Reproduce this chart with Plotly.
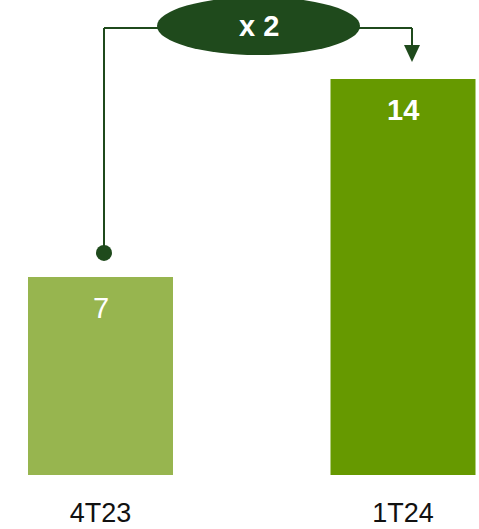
import plotly.graph_objects as go

categories = ["4T23", "1T24"]
values = [7, 14]
value_labels = ["7", "<b>14</b>"]
bar_colors = ["#97B54F", "#669900"]
growth_label = "<b>x 2</b>"

DARK = "#1F4A1C"
W, H = 479, 529
PLOT_BOTTOM = 475
PX_PER_UNIT = 396 / 14.0
X0_PX, X_UNIT_PX = 100.5, 302.5

def px_to_x(px):
    return (px - X0_PX) / X_UNIT_PX

def px_to_y(py):
    return (PLOT_BOTTOM - py) / PX_PER_UNIT

fig = go.Figure(go.Bar(
    x=[0, 1], y=values, marker=dict(color=bar_colors, line=dict(width=0)),
    width=145 / X_UNIT_PX, hoverinfo="skip",
))

for i, (v, lab) in enumerate(zip(values, value_labels)):
    fig.add_annotation(x=i, y=v, text=lab, showarrow=False, yanchor="top", yshift=-13,
                       font=dict(family="Liberation Sans, Arial", size=29, color="white"))

line = dict(color=DARK, width=2)
y_conn = px_to_y(28)
# left connector
fig.add_shape(type="line", x0=px_to_x(104), x1=px_to_x(170), y0=y_conn, y1=y_conn, line=line)
fig.add_shape(type="line", x0=px_to_x(104), x1=px_to_x(104), y0=y_conn, y1=values[0] + 0.85, line=line)
fig.add_shape(type="circle", x0=px_to_x(96), x1=px_to_x(112),
              y0=values[0] + 0.85 - 8 / PX_PER_UNIT, y1=values[0] + 0.85 + 8 / PX_PER_UNIT,
              fillcolor=DARK, line=dict(width=0))
# right connector
fig.add_shape(type="line", x0=px_to_x(345), x1=px_to_x(412), y0=y_conn, y1=y_conn, line=line)
fig.add_shape(type="line", x0=px_to_x(412), x1=px_to_x(412), y0=y_conn, y1=px_to_y(46), line=line)
fig.add_shape(type="path",
              path=f"M {px_to_x(404)} {px_to_y(45)} L {px_to_x(420)} {px_to_y(45)} L {px_to_x(412)} {px_to_y(62)} Z",
              fillcolor=DARK, line=dict(width=0))
# ellipse
fig.add_shape(type="circle", x0=px_to_x(157), x1=px_to_x(360), y0=px_to_y(55), y1=px_to_y(-3),
              fillcolor=DARK, line=dict(width=0))
fig.add_annotation(x=px_to_x(258.5), y=px_to_y(26), text=growth_label, showarrow=False,
                   font=dict(family="Liberation Sans, Arial", size=29, color="white"))

fig.update_layout(
    width=W, height=H, margin=dict(l=0, r=0, t=0, b=H - PLOT_BOTTOM),
    plot_bgcolor="white", paper_bgcolor="white", showlegend=False,
    xaxis=dict(range=[px_to_x(0), px_to_x(W)], tickmode="array", tickvals=[0, 1],
               ticktext=categories, showgrid=False, zeroline=False, showline=False,
               ticks="", ticklabelstandoff=19,
               tickfont=dict(family="Liberation Sans, Arial", size=27, color="#111111")),
    yaxis=dict(range=[0, PLOT_BOTTOM / PX_PER_UNIT], visible=False, showgrid=False),
)

fig.write_html("out.html", config={"displayModeBar": False},
               post_script="document.body.style.margin='0';document.body.style.overflow='hidden';")
